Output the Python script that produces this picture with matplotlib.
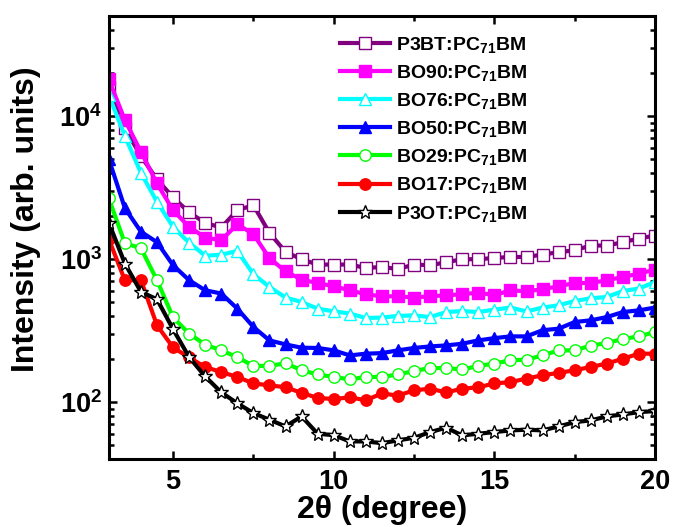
import matplotlib
matplotlib.use('Agg')
import matplotlib.pyplot as plt
import numpy as np
from matplotlib.ticker import MultipleLocator, LogLocator, NullFormatter

plt.rcParams['font.family'] = ['Liberation Sans', 'DejaVu Sans']
plt.rcParams['font.weight'] = 'bold'
plt.rcParams['mathtext.default'] = 'regular'

# 2theta positions (degree)
two_theta = [3.0, 3.5, 4.0, 4.5, 5.0, 5.5, 6.0, 6.5, 7.0, 7.5, 8.0, 8.5, 9.0, 9.5,
             10.0, 10.5, 11.0, 11.5, 12.0, 12.5, 13.0, 13.5, 14.0, 14.5, 15.0,
             15.5, 16.0, 16.5, 17.0, 17.5, 18.0, 18.5, 19.0, 19.5, 20.0]

# intensities (arb. units)
p3bt = [15850, 8190, 5240, 3600, 2700, 2117, 1790, 1660, 2195, 2380, 1523, 1122, 997, 915,
        915, 915, 866, 880, 852, 915, 905, 950, 997, 997, 1018,
        1034, 1034, 1075, 1116, 1152, 1243, 1243, 1311, 1392, 1460]
bo90 = [18030, 9360, 5620, 3375, 2195, 1677, 1413, 1354, 1752, 1491, 1013, 821, 718, 680,
        645, 605, 567, 549, 549, 538, 549, 558, 567, 583, 558,
        605, 595, 615, 645, 680, 680, 711, 749, 791, 844]
bo76 = [14000, 7235, 4005, 2509, 1677, 1300, 1055, 1072, 1139, 783, 638, 538, 501, 450,
        431, 416, 387, 390, 400, 404, 393, 426, 433, 426, 443,
        458, 430, 458, 475, 509, 532, 543, 598, 622, 691]
bo50 = [4994, 2268, 1553, 1311, 905, 711, 605, 574, 450, 335, 270, 253, 240, 239,
        230, 212, 218, 220, 230, 239, 245, 249, 256, 270, 280,
        288, 288, 318, 326, 363, 373, 393, 426, 438, 458]
bo29 = [2651, 1290, 1190, 711, 391, 301, 252, 230, 206, 179, 179, 187, 167, 156,
        150, 144, 150, 150, 156, 165, 173, 173, 169, 179, 186,
        196, 198, 212, 230, 230, 248, 259, 276, 288, 309]
bo17 = [1376, 711, 711, 344, 241, 205, 176, 162, 150, 135, 131, 127, 116, 107,
        105, 108, 103, 115, 111, 121, 124, 117, 124, 127, 135,
        138, 146, 154, 160, 167, 176, 186, 201, 218, 218]
p3ot = [1795, 930, 590, 523, 323, 206, 151, 117, 98, 83.8, 75.3, 67.6, 79.4, 60.1,
        58.7, 53.1, 53.1, 51.6, 54.0, 56.3, 61.7, 66.2, 58.5, 60.1, 61.7,
        63.4, 64.1, 63.4, 67.6, 72.4, 74.5, 79.4, 82.0, 85.1, 86.5]

series = [
    ('P3BT:PC$_{71}$BM', p3bt, '#800080', 's', 'white'),
    ('BO90:PC$_{71}$BM', bo90, '#FF00FF', 's', '#FF00FF'),
    ('BO76:PC$_{71}$BM', bo76, '#00FFFF', '^', 'white'),
    ('BO50:PC$_{71}$BM', bo50, '#0000FF', '^', '#0000FF'),
    ('BO29:PC$_{71}$BM', bo29, '#00FF00', 'o', 'white'),
    ('BO17:PC$_{71}$BM', bo17, '#FF0000', 'o', '#FF0000'),
    ('P3OT:PC$_{71}$BM', p3ot, '#000000', '*', 'white'),
]

fig = plt.figure(figsize=(6.73, 5.27), dpi=100)
ax = fig.add_axes([0.1617, 0.129, 0.8116, 0.8406])

for label, vals, col, mk, fc in series:
    ms = 10.5 if mk == '*' else 8.2
    ax.plot(two_theta, vals, color=col, lw=3, marker=mk, markersize=ms,
            markerfacecolor=fc, markeredgecolor=col if mk != '*' else 'black',
            markeredgewidth=1.0, label=label)

ax.set_yscale('log')
ax.set_xlim(3, 20)
ax.set_ylim(40, 5e4)

ax.xaxis.set_major_locator(MultipleLocator(5))
ax.xaxis.set_minor_locator(MultipleLocator(2.5))
ax.yaxis.set_major_locator(LogLocator(base=10))
ax.yaxis.set_minor_locator(LogLocator(base=10, subs=np.arange(2, 10)))
ax.yaxis.set_minor_formatter(NullFormatter())

ax.tick_params(which='both', direction='in', top=True, right=True, width=1.8)
ax.tick_params(which='major', length=6, labelsize=19.5)
ax.tick_params(which='minor', length=3.5)
ax.tick_params(axis='x', pad=7)
ax.tick_params(axis='y', pad=5)
for sp in ax.spines.values():
    sp.set_linewidth(2.2)

ax.set_xlabel('2θ (degree)', fontsize=23, fontweight='bold', labelpad=0)
ax.set_ylabel('Intensity (arb. units)', fontsize=23, fontweight='bold')
ax.yaxis.set_label_coords(-0.125, 0.542)

ax.legend(loc='upper left', bbox_to_anchor=(0.423, 0.958), frameon=False,
          fontsize=14, borderpad=0, handlelength=2.6, handletextpad=0.3,
          labelspacing=0.42, borderaxespad=0)

fig.savefig('out.png', dpi=100)
